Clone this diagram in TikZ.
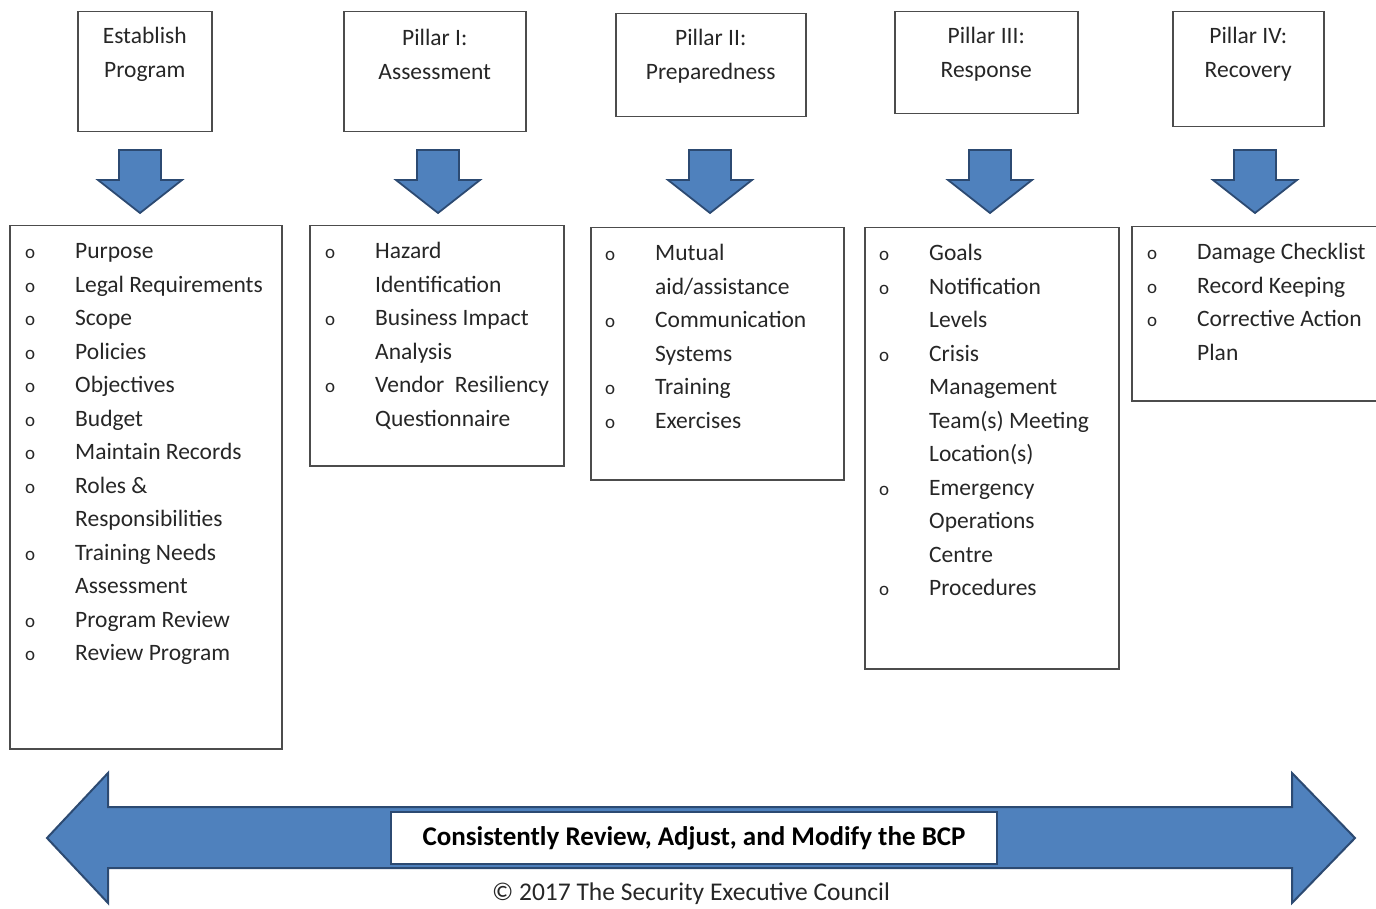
\documentclass[tikz,border=0pt]{standalone}
\usepackage{fontspec}
\setmainfont{Carlito}
\usetikzlibrary{shapes,arrows,positioning,calc}
\definecolor{bcpblue}{HTML}{4F81BD}
\definecolor{bcpnavy}{HTML}{2C4A72}
\newcommand{\bul}{{\fontsize{19}{19}\selectfont o}}
\newcommand{\itm}[1]{\bul & #1\\}
\newcommand{\cnt}[1]{ & #1\\}

\begin{document}
\begin{tikzpicture}[x=1pt, y=-1pt,
    headbox/.style={rectangle, draw=black!70, line width=1.5pt, anchor=north west, inner sep=0pt},
    headtext/.style={align=center, text=black!85, font=\fontsize{23.5}{34}\selectfont},
    listbox/.style={rectangle, draw=black!70, line width=1.5pt, anchor=north west, inner sep=0pt},
    listtext/.style={anchor=north west, inner sep=0pt, text=black!85, font=\fontsize{23.5}{33.5}\selectfont},
    bluearrow/.style={draw=bcpnavy, fill=bcpblue, line width=1.8pt, line join=miter},
    downarrow/.pic={
        \draw[bluearrow] (-21,0) -- (21,0) -- (21,30) -- (42,30) -- (0,63) -- (-42,30) -- (-21,30) -- cycle;
    },
    cyclelabel/.style={rectangle, draw=bcpnavy, fill=white, line width=1.5pt, minimum width=606, minimum height=52,
        inner sep=0pt, font=\fontsize{27}{30}\selectfont\bfseries},
    credit/.style={inner sep=0pt, text=black!85, font=\fontsize{25.5}{28}\selectfont}
]
\useasboundingbox (0,0) rectangle (1376,909);

% Phase headings
\node[headbox, minimum width=134, minimum height=120] (esthead) at (77,11) {};
\node[headbox, minimum width=182, minimum height=120] (onehead) at (343,11) {};
\node[headbox, minimum width=190, minimum height=103] (twohead) at (615,13) {};
\node[headbox, minimum width=183, minimum height=102] (threehead) at (894,11) {};
\node[headbox, minimum width=151, minimum height=115] (fourhead) at (1172,11) {};

\node[headtext] (esttitle) at ([yshift=-43]esthead.north) {Establish\\Program};
\node[headtext] (onetitle) at ([yshift=-43]onehead.north) {Pillar I:\\Assessment};
\node[headtext] (twotitle) at ([yshift=-43]twohead.north) {Pillar II:\\Preparedness};
\node[headtext] (threetitle) at ([yshift=-43]threehead.north) {Pillar III:\\Response};
\node[headtext] (fourtitle) at ([yshift=-43]fourhead.north) {Pillar IV:\\Recovery};

% Down arrows
\pic at (140,150) {downarrow};
\pic at (438,150) {downarrow};
\pic at (710,150) {downarrow};
\pic at (990,150) {downarrow};
\pic at (1255,150) {downarrow};

% Task lists
\node[listbox, minimum width=272, minimum height=523] (estbox) at (9,225) {};
\node[listbox, minimum width=254, minimum height=240] (onebox) at (309,225) {};
\node[listbox, minimum width=253, minimum height=252] (twobox) at (590,227) {};
\node[listbox, minimum width=254, minimum height=441] (threebox) at (864,227) {};
\node[listbox, minimum width=260, minimum height=174] (fourbox) at (1131,226) {};

\node[listtext] (estlist) at ([shift={(16,10)}]estbox.north west) {%
\begin{tabular}{@{}p{50pt}@{}l@{}}
\itm{Purpose}
\itm{Legal Requirements}
\itm{Scope}
\itm{Policies}
\itm{Objectives}
\itm{Budget}
\itm{Maintain Records}
\itm{Roles \&}
\cnt{Responsibilities}
\itm{Training Needs}
\cnt{Assessment}
\itm{Program Review}
\itm{Review Program}
\end{tabular}};
\node[listtext] (onelist) at ([shift={(16,10)}]onebox.north west) {%
\begin{tabular}{@{}p{50pt}@{}l@{}}
\itm{Hazard}
\cnt{Identification}
\itm{Business Impact}
\cnt{Analysis}
\itm{Vendor\ \ Resiliency}
\cnt{Questionnaire}
\end{tabular}};
\node[listtext] (twolist) at ([shift={(15,10)}]twobox.north west) {%
\begin{tabular}{@{}p{50pt}@{}l@{}}
\itm{Mutual}
\cnt{aid/assistance}
\itm{Communication}
\cnt{Systems}
\itm{Training}
\itm{Exercises}
\end{tabular}};
\node[listtext] (threelist) at ([shift={(15,10)}]threebox.north west) {%
\begin{tabular}{@{}p{50pt}@{}l@{}}
\itm{Goals}
\itm{Notification}
\cnt{Levels}
\itm{Crisis}
\cnt{Management}
\cnt{Team(s) Meeting}
\cnt{Location(s)}
\itm{Emergency}
\cnt{Operations}
\cnt{Centre}
\itm{Procedures}
\end{tabular}};
\node[listtext] (fourlist) at ([shift={(16,10)}]fourbox.north west) {%
\begin{tabular}{@{}p{50pt}@{}l@{}}
\itm{Damage Checklist}
\itm{Record Keeping}
\itm{Corrective Action}
\cnt{Plan}
\end{tabular}};

% Review cycle
\draw[bluearrow, line width=2pt] (47,838) -- (108,773) -- (108,807) -- (1292,807) -- (1292,773) -- (1355,838)
    -- (1292,903) -- (1292,868) -- (108,868) -- (108,903) -- cycle;
\node[cyclelabel] (cycletext) at (694,838) {Consistently Review, Adjust, and Modify the BCP};
\node[credit] (credit) at (691,894) {\textcopyright{} 2017 The Security Executive Council};

\end{tikzpicture}
\end{document}
